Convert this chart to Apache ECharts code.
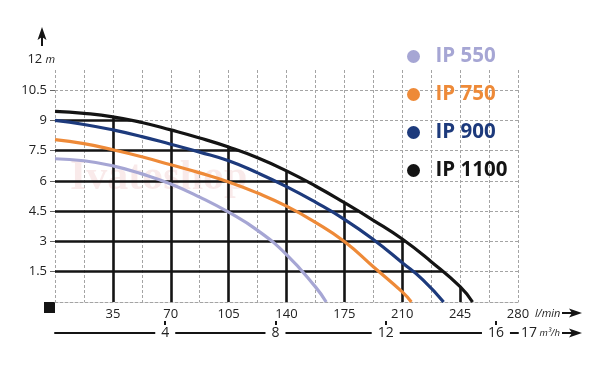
<!DOCTYPE html>
<html><head><meta charset="utf-8">
<script src="https://cdn.jsdelivr.net/npm/echarts@6/dist/echarts.min.js"></script>
<style>html,body{margin:0;padding:0;background:#fff}#c{width:600px;height:369px}</style>
</head><body><div id="c"></div>
<script>
const seriesNames = ['IP 550', 'IP 750', 'IP 900', 'IP 1100'];
const seriesColors = ['#a6a6d4', '#ee8a38', '#1d3a7c', '#141414'];

const ip550Flow = [0, 17.5, 35, 52.5, 70, 87.5, 105, 122.5, 140, 157.5, 164];
const ip550Head = [7.1, 7.0, 6.75, 6.35, 5.85, 5.2, 4.45, 3.55, 2.35, 0.75, 0];

const ip750Flow = [0, 17.5, 35, 52.5, 70, 87.5, 105, 122.5, 140, 157.5, 175, 192.5, 210, 215.5];
const ip750Head = [8.05, 7.85, 7.55, 7.2, 6.8, 6.4, 5.95, 5.4, 4.75, 3.95, 3.0, 1.75, 0.5, 0];

const ip900Flow = [0, 17.5, 35, 52.5, 70, 87.5, 105, 122.5, 140, 157.5, 175, 192.5, 210, 222.5, 235];
const ip900Head = [9.0, 8.8, 8.53, 8.2, 7.82, 7.43, 7.0, 6.4, 5.72, 4.95, 4.1, 3.1, 1.95, 1.1, 0];

const ip1100Flow = [0, 17.5, 35, 52.5, 70, 87.5, 105, 122.5, 140, 157.5, 175, 192.5, 210, 227.5, 245, 252.5];
const ip1100Head = [9.45, 9.35, 9.18, 8.9, 8.53, 8.13, 7.68, 7.15, 6.5, 5.75, 4.92, 4.05, 3.12, 2.0, 0.76, 0];

const flowGridTicks = [35, 70, 105, 140, 175, 210, 245];
const headLabels = [1.5, 3, 4.5, 6, 7.5, 9, 10.5];
const m3hLabels = [4, 8, 12, 16];

const flows = [ip550Flow, ip750Flow, ip900Flow, ip1100Flow];
const heads = [ip550Head, ip750Head, ip900Head, ip1100Head];

function headAt(xs, ys, x) {
  for (let i = 0; i < xs.length - 1; i++) {
    if (x >= xs[i] && x <= xs[i + 1]) {
      const t = (x - xs[i]) / (xs[i + 1] - xs[i]);
      return ys[i] + t * (ys[i + 1] - ys[i]);
    }
  }
  return 0;
}
function flowAt(xs, ys, y) {
  for (let i = 0; i < xs.length - 1; i++) {
    if (y <= ys[i] && y >= ys[i + 1]) {
      const t = (ys[i] - y) / (ys[i] - ys[i + 1]);
      return xs[i] + t * (xs[i + 1] - xs[i]);
    }
  }
  return 0;
}

// thick grid under the largest pump curve
const thick = [];
flowGridTicks.forEach(q => thick.push({ coords: [[q, 0], [q, headAt(ip1100Flow, ip1100Head, q)]] }));
headLabels.forEach(h => {
  const q = flowAt(ip1100Flow, ip1100Head, h);
  if (q > 0) thick.push({ coords: [[0, h], [q, h]] });
});

const thin = { color: '#a4a4a4', width: 1, type: [3, 2] };
const FONT = "'Open Sans', 'Noto Sans', sans-serif";

const series = [{
  type: 'lines', coordinateSystem: 'cartesian2d', silent: true, z: 1,
  lineStyle: { color: '#141414', width: 2.6, opacity: 1 },
  data: thick
}];
seriesNames.forEach((n, i) => {
  series.push({
    name: n, type: 'line', smooth: 0.5, showSymbol: false, z: 3 + i,
    lineStyle: { color: seriesColors[i], width: 3.2 },
    itemStyle: { color: seriesColors[i] },
    data: flows[i].map((q, k) => [q, heads[i][k]])
  });
});

const chart = echarts.init(document.getElementById('c'), null, { renderer: 'canvas' });
chart.setOption({
  animation: false,
  backgroundColor: '#fff',
  textStyle: { fontFamily: FONT },
  grid: { left: 55, right: 82, top: 70, bottom: 67 },
  legend: {
    orient: 'vertical', left: 402, top: 41, icon: 'circle',
    itemWidth: 30, itemHeight: 13, itemGap: 17,
    textStyle: { fontSize: 20.5, fontWeight: 'bold', lineHeight: 21, padding: [0, 0, 0, 2], fontFamily: FONT },
    data: seriesNames.map((n, i) => ({ name: n, textStyle: { color: seriesColors[i] } })),
    selectedMode: false
  },
  xAxis: [{
    type: 'value', min: 0, max: 280, interval: 35,
    axisLine: { show: true, lineStyle: thin },
    axisTick: { show: false },
    axisLabel: { showMinLabel: false, margin: 6, fontSize: 13, color: '#222', fontFamily: FONT },
    splitLine: { show: true, lineStyle: thin },
    minorTick: { show: false, splitNumber: 2 },
    minorSplitLine: { show: true, lineStyle: thin },
    name: 'l/min', nameLocation: 'end', nameGap: 10,
    nameTextStyle: { fontStyle: 'italic', fontSize: 11, color: '#222', verticalAlign: 'top', padding: [6, 0, 0, 0], fontFamily: FONT }
  }, {
    type: 'value', position: 'bottom', offset: 31, min: 0, max: 16.8,
    axisLine: { show: true, lineStyle: { color: '#141414', width: 2 } },
    axisTick: { show: true, customValues: m3hLabels, inside: true, length: 12, lineStyle: { color: '#141414', width: 2 } },
    axisLabel: { customValues: m3hLabels, margin: 0, verticalAlign: 'middle', fontSize: 14, color: '#222',
      backgroundColor: '#fff', padding: [1, 6, 1, 6], fontFamily: FONT },
    splitLine: { show: false },
    name: '{n|17}{u| m³/h}', nameLocation: 'end', nameGap: 1,
    nameTextStyle: { verticalAlign: 'middle', backgroundColor: '#fff', padding: [0, 0, 0, 2],
      rich: { n: { fontSize: 14, color: '#222', fontFamily: FONT }, u: { fontSize: 9.5, fontStyle: 'italic', color: '#222', fontFamily: FONT } } }
  }],
  yAxis: {
    type: 'value', min: 0, max: 11.5, interval: 1.5,
    axisLine: { show: false },
    axisTick: { show: true, customValues: headLabels, length: 5, lineStyle: { color: '#666', width: 1 } },
    axisLabel: { customValues: headLabels, margin: 8, fontSize: 13, color: '#222', fontFamily: FONT },
    splitLine: { show: true, lineStyle: thin },
    name: '{n|12} {u|m}', nameLocation: 'end', nameGap: 4,
    nameTextStyle: { align: 'right', verticalAlign: 'bottom',
      rich: { n: { fontSize: 13, color: '#222', fontFamily: FONT }, u: { fontSize: 11, fontStyle: 'italic', color: '#222', fontFamily: FONT } } }
  },
  graphic: [
    { type: 'text', left: 70, top: 157, z: -1, silent: true,
      style: { text: 'Ivatoshop', font: 'bold 42px "Liberation Serif", serif', fill: 'rgba(225,150,150,0.2)' } },
    { type: 'rect', shape: { x: 44, y: 302, width: 11, height: 11 }, style: { fill: '#141414' } },
    { type: 'line', shape: { x1: 42, y1: 36, x2: 42, y2: 46 }, style: { stroke: '#141414', lineWidth: 2 } },
    { type: 'polygon', shape: { points: [[37.5, 40], [42, 27], [46.5, 40], [42, 37]] }, style: { fill: '#141414' } },
    { type: 'line', shape: { x1: 562, y1: 313, x2: 574, y2: 313 }, style: { stroke: '#141414', lineWidth: 2 } },
    { type: 'polygon', shape: { points: [[569, 308.5], [582, 313], [569, 317.5], [572, 313]] }, style: { fill: '#141414' } },
    { type: 'line', shape: { x1: 562, y1: 333, x2: 574, y2: 333 }, style: { stroke: '#141414', lineWidth: 2 } },
    { type: 'polygon', shape: { points: [[569, 328.5], [582, 333], [569, 337.5], [572, 333]] }, style: { fill: '#141414' } }
  ],
  series: series
});
</script>
</body></html>
